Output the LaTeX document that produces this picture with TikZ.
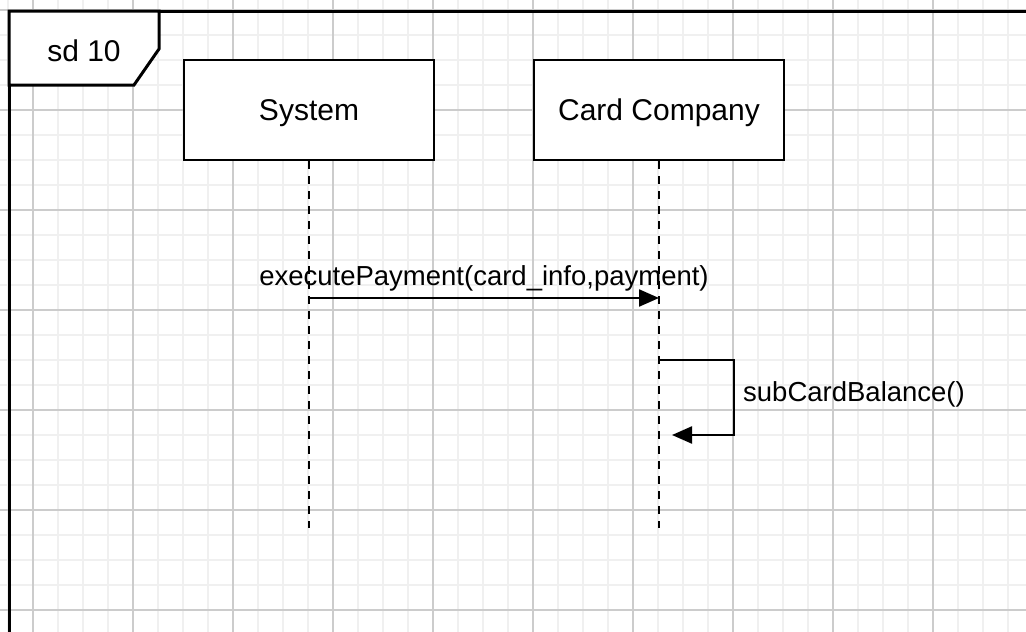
\documentclass[tikz,border=0pt]{standalone}
\usepackage{fontspec}
\setmainfont{Liberation Sans}
\usetikzlibrary{arrows.meta}
\tikzset{
  minorgrid/.style={draw=black!6, line width=1.2pt},
  majorgrid/.style={draw=black!20, line width=1.3pt},
  frameline/.style={draw=black, line width=3pt},
  actor/.style={draw=black, line width=2.8pt, fill=white, minimum width=250pt, minimum height=100pt, inner sep=0pt, text height=21pt, text depth=0pt, font=\fontsize{30}{36}\selectfont},
  lifeline/.style={draw=black, line width=2.6pt, dash pattern=on 7.5pt off 7.5pt},
  msg/.style={draw=black, line width=2.3pt, -{Triangle[length=20pt,width=17pt]}},
  msglabel/.style={font=\fontsize{27.5}{33}\selectfont, inner sep=0pt},
}
\begin{document}
\begin{tikzpicture}[x=1pt,y=-1pt]
\useasboundingbox (0,0) rectangle (1026,632);
\clip (0,0) rectangle (1026,632);
\fill[white] (0,0) rectangle (1026,632);
% grid
\foreach \x in {8,33,...,1033} \draw[minorgrid] (\x,0) -- (\x,632);
\foreach \y in {10,35,...,635} \draw[minorgrid] (0,\y) -- (1026,\y);
\foreach \x in {33,133,...,1033} \draw[majorgrid] (\x,0) -- (\x,632);
\foreach \y in {10,110,...,610} \draw[majorgrid] (0,\y) -- (1026,\y);
% frame
\draw[frameline] (9,660) -- (9,11) -- (1060,11);
\draw[frameline, fill=white] (9,11) -- (159,11) -- (159,49) -- (134,85) -- (9,85) -- cycle;
\node[font=\fontsize{30}{36}\selectfont, inner sep=0pt] (sd) at (84,51) {sd 10};
% actors
\node[actor] (sys) at (309,110) {System};
\node[actor] (card) at (659,110) {Card Company};
\coordinate (sysend) at (309,528);
\coordinate (cardend) at (659,528);
\draw[lifeline] (sys.south) -- (sysend);
\draw[lifeline] (card.south) -- (cardend);
% message 1
\coordinate (m1s) at (309,298);
\coordinate (m1e) at (659,298);
\draw[msg] (m1s) -- (m1e);
\node[msglabel] (m1l) at (484,278) {executePayment(card\_info,payment)};
% self message
\coordinate (m2s) at (659,360);
\coordinate (m2a) at (734,360);
\coordinate (m2b) at (734,435);
\coordinate (m2e) at (672,435);
\draw[msg] (m2s) -- (m2a) -- (m2b) -- (m2e);
\node[msglabel, anchor=west] (m2l) at (743,394) {subCardBalance()};
\end{tikzpicture}
\end{document}
